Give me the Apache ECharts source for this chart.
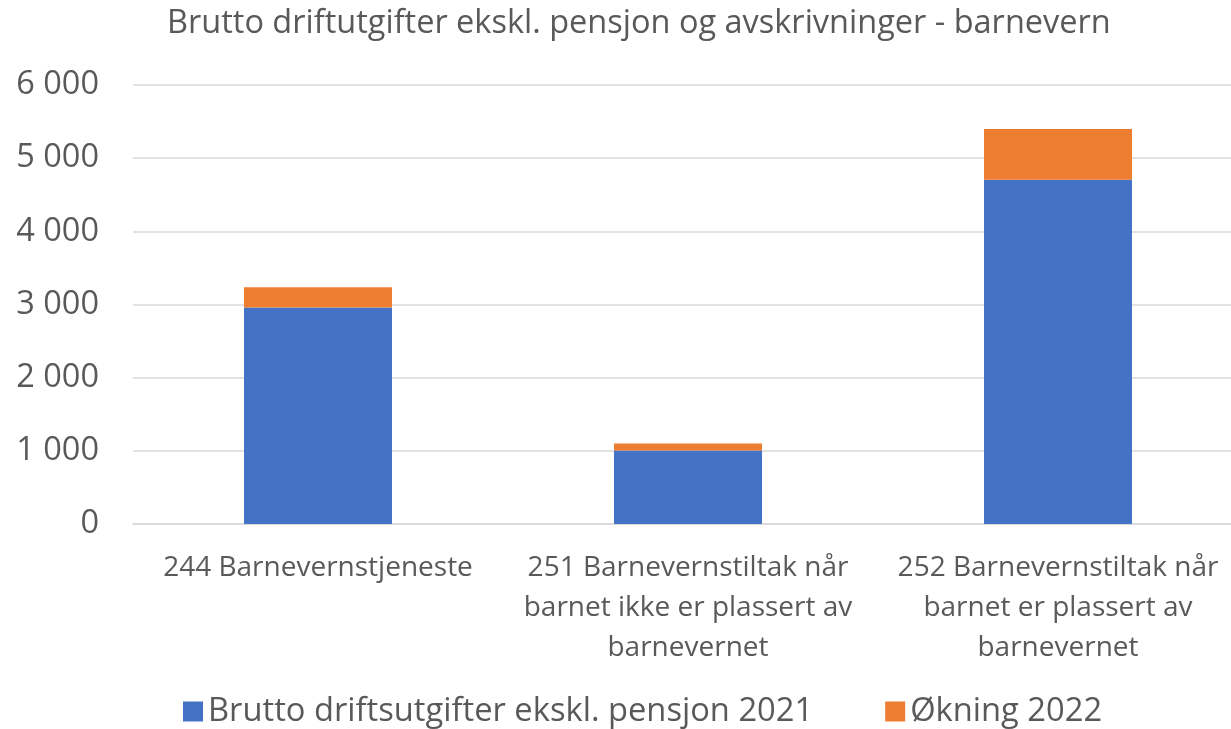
<!DOCTYPE html>
<html>
<head>
<meta charset="utf-8">
<script src="https://cdn.jsdelivr.net/npm/echarts@6/dist/echarts.min.js"></script>
<style>
  html, body { margin: 0; padding: 0; background: #fff; }
  #chart { width: 1231px; height: 729px; }
</style>
</head>
<body>
<div id="chart"></div>
<script>
// Barnevern: brutto driftsutgifter 2021 + økning 2022 (stablet)
const categories = [
  '244 Barnevernstjeneste',
  '251 Barnevernstiltak når\nbarnet ikke er plassert av\nbarnevernet',
  '252 Barnevernstiltak når\nbarnet er plassert av\nbarnevernet',
];
const brutto2021 = [2960, 1005, 4705];
const okning2022 = [275, 95, 695];
const seriesNames = ['Brutto driftsutgifter ekskl. pensjon 2021', 'Økning 2022'];
const yTicks = [0, 1000, 2000, 3000, 4000, 5000, 6000];

const FONT = '"Open Sans", sans-serif';
const TEXT = '#595959';
const BLUE = '#4472C4';
const ORANGE = '#ED7D31';

const chart = echarts.init(document.getElementById('chart'), null, { renderer: 'canvas' });
chart.setOption({
  backgroundColor: '#fff',
  animation: false,
  textStyle: { fontFamily: FONT },
  title: {
    text: 'Brutto driftutgifter ekskl. pensjon og avskrivninger - barnevern',
    left: 162,
    top: 2,
    textStyle: { color: TEXT, fontSize: 32.5, fontWeight: 'normal', fontFamily: FONT },
  },
  legend: {
    left: 178,
    top: 690,
    itemWidth: 20,
    itemHeight: 20,
    itemGap: 72,
    icon: 'rect',
    textStyle: { color: TEXT, fontSize: 32.7, fontFamily: FONT },
    data: seriesNames,
  },
  // plottet går litt ut over høyre kant i originalen
  grid: { left: 133, width: 1110, top: 85, bottom: 205, outerBoundsMode: 'none' },
  xAxis: {
    type: 'category',
    data: categories,
    axisLine: { lineStyle: { color: '#d9d9d9', width: 1.5 } },
    axisTick: { show: false },
    axisLabel: {
      color: TEXT,
      fontSize: 28,
      lineHeight: 40,
      margin: 24,
      interval: 0,
      fontFamily: FONT,
    },
  },
  yAxis: {
    type: 'value',
    min: yTicks[0],
    max: yTicks[yTicks.length - 1],
    interval: 1000,
    axisLine: { show: false },
    axisTick: { show: false },
    splitLine: { lineStyle: { color: '#d9d9d9', width: 1.5 } },
    axisLabel: {
      color: TEXT,
      fontSize: 32.5,
      margin: 34,
      fontFamily: FONT,
      formatter: (v) => v === 0 ? '0' : v.toLocaleString('en-US').replace(',', ' '),
    },
  },
  series: [
    {
      name: seriesNames[0],
      type: 'bar',
      stack: 'total',
      barWidth: '40%',
      data: brutto2021,
      itemStyle: { color: BLUE },
    },
    {
      name: seriesNames[1],
      type: 'bar',
      stack: 'total',
      barWidth: '40%',
      data: okning2022,
      itemStyle: { color: ORANGE },
    },
  ],
});
</script>
</body>
</html>
